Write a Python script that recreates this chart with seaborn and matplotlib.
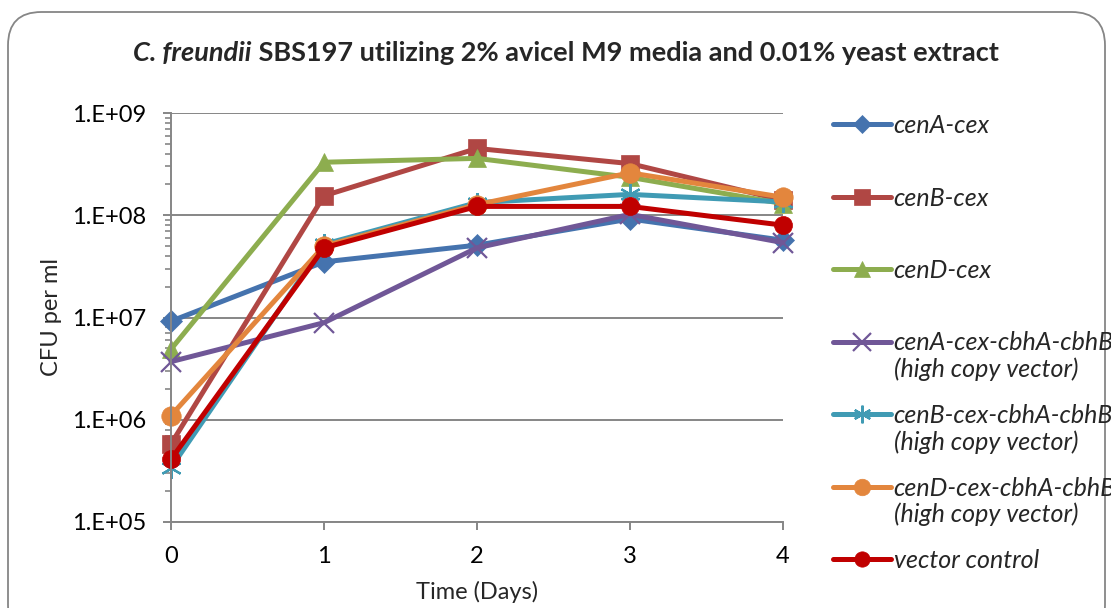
import numpy as np
import pandas as pd
import matplotlib
matplotlib.use("Agg")
import matplotlib.pyplot as plt
import seaborn as sns
from matplotlib.patches import FancyBboxPatch
from matplotlib.lines import Line2D

# values (CFU per ml)
days = [0, 1, 2, 3, 4]
cenA_cex = [9.2e6, 3.5e7, 5.1e7, 9.2e7, 5.7e7]
cenB_cex = [5.8e5, 1.55e8, 4.5e8, 3.2e8, 1.4e8]
cenD_cex = [4.9e6, 3.3e8, 3.6e8, 2.35e8, 1.3e8]
cenA_hc = [3.7e6, 8.9e6, 4.8e7, 1.02e8, 5.4e7]
cenB_hc = [3.4e5, 5.2e7, 1.33e8, 1.6e8, 1.35e8]
cenD_hc = [1.1e6, 5.0e7, 1.27e8, 2.6e8, 1.5e8]
vector_ctrl = [4.1e5, 4.8e7, 1.22e8, 1.22e8, 8.0e7]

series_names = ["cenA-cex", "cenB-cex", "cenD-cex",
                "cenA-cex-cbhA-cbhB", "cenB-cex-cbhA-cbhB",
                "cenD-cex-cbhA-cbhB", "vector control"]
series_vals = [cenA_cex, cenB_cex, cenD_cex, cenA_hc, cenB_hc, cenD_hc, vector_ctrl]
two_line = [False, False, False, True, True, True, False]

colors = ["#4573AE", "#B04744", "#8DAD4F", "#705797", "#409BB4", "#E3863D", "#C00000"]
markers = ["D", "s", "^", "x", (6, 2, 0), "o", "o"]
msizes = [11, 13, 13, 15, 15, 14, 13]

df = pd.DataFrame({
    "day": days * len(series_names),
    "cfu": [v for vals in series_vals for v in vals],
    "series": [n for n in series_names for _ in days],
})

sns.set_style("white")
plt.rcParams["font.family"] = ["Lato", "DejaVu Sans"]
FS = 17
LFS = 18

fig = plt.figure(figsize=(11.11, 6.08), dpi=100)
ax = fig.add_axes([171 / 1111, 1 - 522 / 608, (783 - 171) / 1111, (522 - 113) / 608])

for name, col, mk, ms in zip(series_names, colors, markers, msizes):
    sub = df[df["series"] == name]
    sns.lineplot(data=sub, x="day", y="cfu", color=col, marker=mk, markersize=ms,
                 linewidth=3.6, mec=col, mew=1.6 if mk in ("x", (6, 2, 0)) else 0.5,
                 ax=ax, legend=False, clip_on=False)

ax.set_yscale("log")
ax.set_ylim(1e5, 1e9)
ax.set_xlim(0, 4)
ax.set_xticks(days)
ax.set_xticklabels([str(d) for d in days])
ax.set_yticks([1e5, 1e6, 1e7, 1e8, 1e9])
ax.set_yticklabels(["1.E+05", "1.E+06", "1.E+07", "1.E+08", "1.E+09"])
ax.yaxis.set_minor_locator(matplotlib.ticker.LogLocator(base=10, subs=np.arange(2, 10)))
ax.yaxis.set_minor_formatter(matplotlib.ticker.NullFormatter())

grid_col = "#868686"
ax.grid(True, axis="y", which="major", color=grid_col, linewidth=1.4)
ax.set_axisbelow(True)
for side in ["top", "right"]:
    ax.spines[side].set_visible(False)
for side in ["left", "bottom"]:
    ax.spines[side].set_color(grid_col)
    ax.spines[side].set_linewidth(1.4)
ax.tick_params(axis="both", which="major", direction="out", length=6, width=1.4,
               color=grid_col, labelsize=FS, labelcolor="black")
ax.tick_params(axis="x", which="major", pad=11, bottom=True)
ax.tick_params(axis="y", which="major", pad=12, left=True)
ax.tick_params(axis="y", which="minor", direction="out", length=4, width=1.2,
               color=grid_col, left=True)

ax.set_xlabel("Time (Days)", fontsize=FS)
ax.set_ylabel("CFU per ml", fontsize=FS, va="center")
ax.xaxis.set_label_coords(0.5, (522 - 581) / 409)
ax.yaxis.set_label_coords((51 - 171) / 612, 0.5)

# title with italic species name
fig.canvas.draw()
r = fig.canvas.get_renderer()
ty = 1 - 53 / 608
t1 = fig.text(0, ty, "C. freundii", fontsize=19.5, fontweight="bold", style="italic", va="center")
t2 = fig.text(0, ty, " SBS197 utilizing 2% avicel M9 media and 0.01% yeast extract",
              fontsize=19.5, fontweight="bold", va="center")
w1 = t1.get_window_extent(r).width / fig.bbox.width
w2 = t2.get_window_extent(r).width / fig.bbox.width
x0 = 566 / 1111 - (w1 + w2) / 2
t1.set_x(x0)
t2.set_x(x0 + w1)

# legend
handles = [Line2D([], [], color=c, marker=m, markersize=s * 0.85, linewidth=3.6, mec=c,
                  mew=1.6 if m in ("x", (6, 2, 0)) else 0.5)
           for c, m, s in zip(colors, markers, msizes)]
leg = fig.legend(handles, series_names, loc="upper left",
                 bbox_to_anchor=(823 / 1111, 1 - 104 / 608), frameon=False,
                 prop={"size": LFS, "style": "italic"}, handlelength=2.3,
                 handletextpad=0.12, labelspacing=1.98, borderaxespad=0)
fig.canvas.draw()
for txt, tl in zip(leg.get_texts(), two_line):
    if tl:
        bb = txt.get_window_extent(r)
        fig.text(bb.x0 / fig.bbox.width, (bb.y0 - 3) / fig.bbox.height,
                 "(high copy vector)", fontsize=LFS, style="italic", va="top", ha="left")

# chart area border
border = FancyBboxPatch((8 / 1111, -0.05), 1097 / 1111, 1 - 12 / 608 + 0.05,
                        boxstyle="round,pad=0,rounding_size=0.03",
                        transform=fig.transFigure, facecolor="none",
                        edgecolor="#868686", linewidth=1.3, mutation_aspect=1111 / 608)
fig.patches.append(border)

fig.savefig("out.png", dpi=100)
